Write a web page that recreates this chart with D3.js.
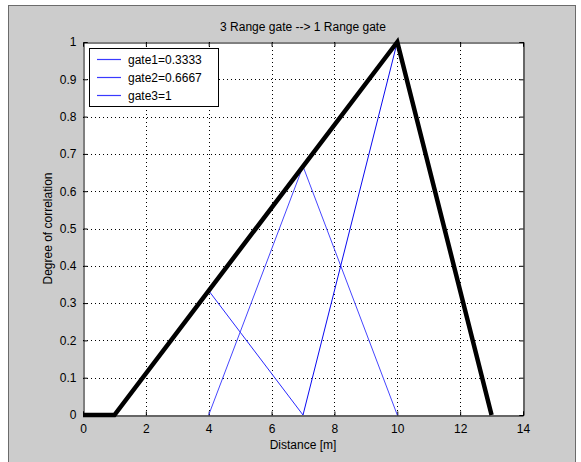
<!DOCTYPE html>
<html><head><meta charset="utf-8">
<script src="https://cdn.jsdelivr.net/npm/d3@7"></script>
<style>body{margin:0;background:#fff;} text{font-family:"Liberation Sans",Arial,sans-serif;}</style>
</head><body>
<svg id="c" width="581" height="462"></svg>
<script>
const title = "3 Range gate --> 1 Range gate";
const xLabel = "Distance [m]";
const yLabel = "Degree of correlation";
const xTicks = [0,2,4,6,8,10,12,14];
const yTicks = [0,0.1,0.2,0.3,0.4,0.5,0.6,0.7,0.8,0.9,1];
const totalX = [0,1,10,13];
const totalY = [0,0,1,0];
const gateNames = ["gate1=0.3333","gate2=0.6667","gate3=1"];
const gate1X = [1,4,7], gate1Y = [0,0.3333,0];
const gate2X = [4,7,10], gate2Y = [0,0.6667,0];
const gate3X = [7,10,13], gate3Y = [0,1,0];
const gateColors = ["#2828ff","#4646ff","#0a0af0"];

const svg = d3.select("#c");
// figure background
svg.append("rect").attr("x",8.5).attr("y",5.5).attr("width",567).attr("height",470)
  .attr("fill","#cccccc").attr("stroke","#6b6b6b").attr("stroke-width",1);

const L=83,R=523,T=42,B=415;
const x = d3.scaleLinear().domain([0,14]).range([L,R]);
const y = d3.scaleLinear().domain([0,1]).range([B,T]);

svg.append("rect").attr("x",L).attr("y",T).attr("width",R-L).attr("height",B-T).attr("fill","#fff");

// grid
const g = svg.append("g");
g.selectAll(".gx").data(xTicks.slice(1,-1)).join("line")
  .attr("x1",d=>Math.round(x(d))+0.5).attr("x2",d=>Math.round(x(d))+0.5).attr("y1",T).attr("y2",B)
  .attr("stroke","#000").attr("stroke-width",1).attr("stroke-dasharray","1,3");
g.selectAll(".gy").data(yTicks.slice(1,-1)).join("line")
  .attr("y1",d=>Math.round(y(d))+0.5).attr("y2",d=>Math.round(y(d))+0.5).attr("x1",L).attr("x2",R)
  .attr("stroke","#000").attr("stroke-width",1).attr("stroke-dasharray","1,3");

// axes with inward ticks
const axB = d3.axisBottom(x).tickValues(xTicks).tickSize(-4).tickPadding(9).tickFormat(d3.format("d"));
const axL = d3.axisLeft(y).tickValues(yTicks).tickSize(-4).tickPadding(7).tickFormat(d=>d===0?"0":d===1?"1":d3.format(".1f")(d));
const axT = d3.axisTop(x).tickValues(xTicks).tickSize(-4).tickFormat("");
const axR = d3.axisRight(y).tickValues(yTicks).tickSize(-4).tickFormat("");
function style(sel){sel.select(".domain").attr("stroke","#000");sel.selectAll(".tick line").attr("stroke","#000");
  sel.selectAll("text").attr("font-family","Liberation Sans, Arial, sans-serif").attr("font-size",12).attr("fill","#000");}
svg.append("g").attr("transform",`translate(0,${B+0.5})`).call(axB).call(style);
svg.append("g").attr("transform",`translate(${L+0.5},0)`).call(axL).call(style);
svg.append("g").attr("transform",`translate(0,${T+0.5})`).call(axT).call(style);
svg.append("g").attr("transform",`translate(${R+0.5},0)`).call(axR).call(style);

// lines
const line = d3.line().x(d=>x(d[0])).y(d=>y(d[1]));
const gates = [[gate1X,gate1Y],[gate2X,gate2Y],[gate3X,gate3Y]];
gates.forEach((gd,i)=>{
  svg.append("path").datum(d3.zip(gd[0],gd[1])).attr("d",line)
    .attr("fill","none").attr("stroke",gateColors[i]).attr("stroke-width",1);
});
svg.append("path").datum(d3.zip(totalX,totalY)).attr("d",line)
  .attr("fill","none").attr("stroke","#000").attr("stroke-width",4.5).attr("stroke-linejoin","miter");

// legend
const lg = svg.append("g");
lg.append("rect").attr("x",89.5).attr("y",48.5).attr("width",129).attr("height",58)
  .attr("fill","#fff").attr("stroke","#000");
gateNames.forEach((n,i)=>{
  const yy = 59 + i*18;
  lg.append("path").attr("d",`M97,${yy+0.5}H121`)
    .style("stroke","#3a3aff").style("stroke-width","1.2px").style("fill","none");
  lg.append("text").attr("x",128).attr("y",yy+4.5).attr("font-size",12).text(n);
});

// labels
svg.append("text").attr("x",(L+R)/2).attr("y",31).attr("text-anchor","middle").attr("font-size",12).text(title);
svg.append("text").attr("x",(L+R)/2).attr("y",449).attr("text-anchor","middle").attr("font-size",12).text(xLabel);
svg.append("text").attr("transform",`translate(52,${(T+B)/2}) rotate(-90)`).attr("text-anchor","middle").attr("font-size",12).text(yLabel);
</script>
</body></html>
